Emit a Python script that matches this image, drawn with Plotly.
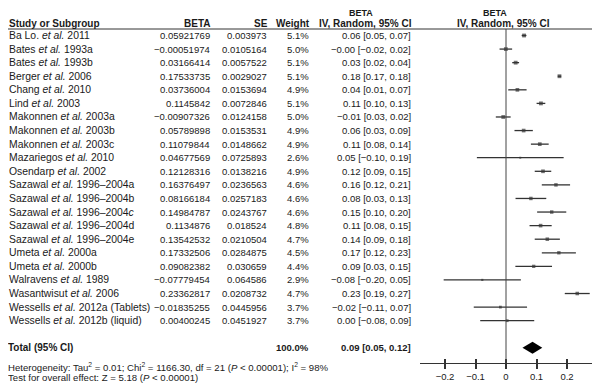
import plotly.graph_objects as go

studies = [
    "Ba Lo. <i>et al.</i> 2011", "Bates <i>et al.</i> 1993a", "Bates <i>et al.</i> 1993b",
    "Berger <i>et al.</i> 2006", "Chang <i>et al.</i> 2010", "Lind <i>et al.</i> 2003",
    "Makonnen <i>et al.</i> 2003a", "Makonnen <i>et al.</i> 2003b", "Makonnen <i>et al.</i> 2003c",
    "Mazariegos <i>et al.</i> 2010", "Osendarp <i>et al.</i> 2002",
    "Sazawal <i>et al.</i> 1996–2004a", "Sazawal <i>et al.</i> 1996–2004b",
    "Sazawal <i>et al.</i> 1996–2004<i>c</i>", "Sazawal <i>et al.</i> 1996–2004d",
    "Sazawal <i>et al.</i> 1996–2004e", "Umeta <i>et al.</i> 2000a", "Umeta <i>et al.</i> 2000b",
    "Walravens <i>et al.</i> 1989", "Wasantwisut <i>et al.</i> 2006",
    "Wessells <i>et al.</i> 2012a (Tablets)", "Wessells <i>et al.</i> 2012b (liquid)",
]
beta = [0.05921769, -0.00051974, 0.03166414, 0.17533735, 0.03736004, 0.1145842,
        -0.00907326, 0.05789898, 0.11079844, 0.04677569, 0.12128316, 0.16376497,
        0.08166184, 0.14984787, 0.1134876, 0.13542532, 0.17332506, 0.09082382,
        -0.07779454, 0.23362817, -0.01835255, 0.00400245]
se = [0.003973, 0.0105164, 0.0057522, 0.0029027, 0.0153694, 0.0072846, 0.0124158,
      0.0153531, 0.0148662, 0.0725893, 0.0138216, 0.0236563, 0.0257183, 0.0243767,
      0.018524, 0.0210504, 0.0284875, 0.030659, 0.064586, 0.0208732, 0.0445956, 0.0451927]
weight = [5.1, 5.0, 5.1, 5.1, 4.9, 5.1, 5.0, 4.9, 4.9, 2.6, 4.9, 4.6, 4.6, 4.6, 4.8,
          4.7, 4.5, 4.4, 2.9, 4.7, 3.7, 3.7]
ci_text = [
    "0.06 [0.05, 0.07]", "−0.00 [−0.02, 0.02]", "0.03 [0.02, 0.04]", "0.18 [0.17, 0.18]",
    "0.04 [0.01, 0.07]", "0.11 [0.10, 0.13]", "−0.01 [0.03, 0.02]", "0.06 [0.03, 0.09]",
    "0.11 [0.08, 0.14]", "0.05 [−0.10, 0.19]", "0.12 [0.09, 0.15]", "0.16 [0.12, 0.21]",
    "0.08 [0.03, 0.13]", "0.15 [0.10, 0.20]", "0.11 [0.08, 0.15]", "0.14 [0.09, 0.18]",
    "0.17 [0.12, 0.23]", "0.09 [0.03, 0.15]", "−0.08 [−0.20, 0.05]", "0.23 [0.19, 0.27]",
    "−0.02 [−0.11, 0.07]", "0.00 [−0.08, 0.09]",
]
total_est, total_lo, total_hi = 0.087, 0.054, 0.119
total_text = "0.09 [0.05, 0.12]"
tick_vals = [-0.2, -0.1, 0, 0.1, 0.2]

# page offset of the plot div (browser body margin)
OFF = 8
W, H = 600 - OFF, 388 - OFF
ROW0, ROWH = 35.5, 13.58       # page pixel centre of first row, row height
AXIS_PIX = 363                 # page pixel y of the x axis line
FONT = "Liberation Sans, Arial, Helvetica, sans-serif"
FS = 9.5
TXT = "#1a1a1a"
DARK = "#333333"

def rowpix(p):
    return (p - ROW0) / ROWH

def px(x):
    return (x - OFF) / W

def py(p):
    return (388 - p) / H

n = len(studies)
rows = list(range(n))
total_row = n + 1

lo = [b - 1.96 * s for b, s in zip(beta, se)]
hi = [b + 1.96 * s for b, s in zip(beta, se)]

fig = go.Figure()

fig.add_trace(go.Scatter(
    x=beta, y=rows, mode="markers",
    marker=dict(symbol="square", color=DARK, size=[w * 0.75 for w in weight], line=dict(width=0)),
    error_x=dict(type="data", symmetric=False,
                 array=[h - b for h, b in zip(hi, beta)],
                 arrayminus=[b - l for b, l in zip(beta, lo)],
                 color=DARK, thickness=1.3, width=0),
    hoverinfo="skip",
))

dh = 0.44
fig.add_trace(go.Scatter(
    x=[total_lo, total_est, total_hi, total_est, total_lo],
    y=[total_row, total_row - dh, total_row, total_row + dh, total_row],
    mode="lines", fill="toself", fillcolor="black", line=dict(width=0, color="black"),
    hoverinfo="skip",
))

# invisible trace to make the overlay axis render
fig.add_trace(go.Scatter(x=[0], y=[0], xaxis="x2", mode="markers",
                         marker=dict(size=1, opacity=0), hoverinfo="skip"))

ann = []
def add(text, x, y, anchor, bold=False, yref="y", size=FS, yanchor="middle"):
    ann.append(dict(text=f"<b>{text}</b>" if bold else text, x=x, y=y, xref="paper", yref=yref,
                    xanchor=anchor, yanchor=yanchor, showarrow=False, borderpad=0, borderwidth=0,
                    font=dict(family=FONT, size=size, color=TXT)))

HS = 10
NS = 10.4
# headers
hdr = rowpix(23)
add("Study or Subgroup", px(9), hdr, "left", bold=True, size=HS)
add("BETA", px(210), hdr, "right", bold=True, size=HS)
add("SE", px(268), hdr, "right", bold=True, size=HS)
add("Weight", px(310), hdr, "right", bold=True, size=HS)
add("BETA", px(361), 1, "center", bold=True, size=9, yref="paper", yanchor="top")
add("IV, Random, 95% CI", px(365), hdr, "center", bold=True, size=HS)
add("BETA", px(495), 1, "center", bold=True, size=9, yref="paper", yanchor="top")
add("IV, Random, 95% CI", px(503), hdr, "center", bold=True, size=HS)

for i in rows:
    add(studies[i], px(9), i, "left", size=NS)
    add(str(beta[i]).replace("-", "−"), px(210), i, "right")
    add(str(se[i]), px(267), i, "right")
    add(f"{weight[i]:.1f}%", px(309), i, "right")
    add(ci_text[i], px(411), i, "right")

add("Total (95% CI)", px(8), total_row, "left", bold=True, size=HS)
add("100.0%", px(309), total_row, "right", bold=True)
add(total_text, px(411), total_row, "right", bold=True)

add("Heterogeneity: Tau<sup>2</sup> = 0.01; Chi<sup>2</sup> = 1166.30, df = 21 (<i>P</i> &lt; 0.00001); I<sup>2</sup> = 98%",
    px(8), py(367), "left", yref="paper", size=9.6)
add("Test for overall effect: Z = 5.18 (<i>P</i> &lt; 0.00001)",
    px(8), py(377.5), "left", yref="paper", size=9.6)

shapes = [
    dict(type="line", xref="paper", yref="y", x0=0, x1=1, y0=rowpix(29), y1=rowpix(29),
         line=dict(color=DARK, width=1)),
    dict(type="line", xref="x", yref="y", x0=0, x1=0, y0=rowpix(29), y1=rowpix(AXIS_PIX),
         line=dict(color="#444444", width=1)),
]

xr = [-0.282, 0.282]
dom = [px(420), px(592)]
fig.update_layout(
    width=W, height=H, margin=dict(l=0, r=0, t=0, b=0),
    paper_bgcolor="white", plot_bgcolor="white", showlegend=False,
    annotations=ann, shapes=shapes,
    font=dict(family=FONT, size=FS, color=TXT),
    xaxis=dict(domain=dom, range=xr, showgrid=False, zeroline=False, showline=True,
               linecolor=DARK, linewidth=1, ticks="outside", ticklen=5, tickwidth=1.5,
               tickcolor=DARK, tickvals=tick_vals, tickfont=dict(family=FONT, size=FS, color=TXT),
               fixedrange=True),
    xaxis2=dict(domain=dom, range=xr, overlaying="x", anchor="y", side="bottom",
                showgrid=False, zeroline=False, showline=False, ticks="inside", ticklen=4,
                tickwidth=1.5, tickcolor=DARK, tickvals=tick_vals, showticklabels=False),
    yaxis=dict(domain=[(388 - AXIS_PIX) / H, 1], range=[rowpix(AXIS_PIX), rowpix(OFF)],
               visible=False, fixedrange=True),
)

fig.write_html("out.html")
